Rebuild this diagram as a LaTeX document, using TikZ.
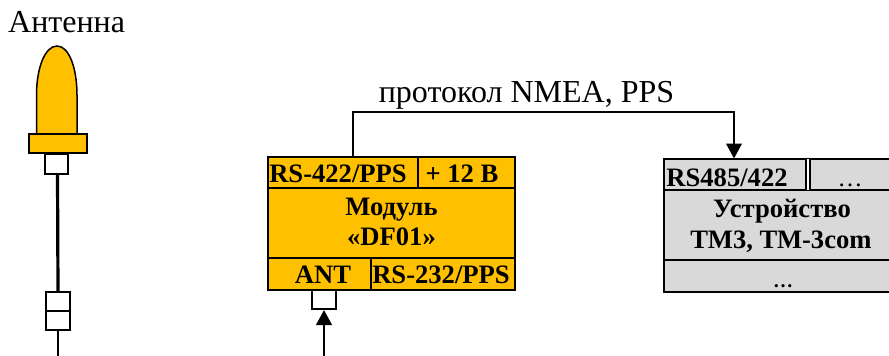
\documentclass[tikz,border=0pt]{standalone}
\usepackage{fontspec}
\setmainfont{Liberation Serif}
\usetikzlibrary{arrows.meta}
\definecolor{amber}{HTML}{FFC000}
\definecolor{devgrey}{HTML}{D9D9D9}
\tikzset{
  x=1pt,y=-1pt,
  box/.style={draw=black,line width=2pt,rectangle,minimum width=0pt,inner sep=0pt},
  lab/.style={font=\fontsize{32}{36}\selectfont,inner sep=0pt,text=black},
  blab/.style={font=\fontsize{26.6}{30}\bfseries\selectfont,inner sep=0pt,anchor=base,text=black},
  wire/.style={draw=black,line width=2.6pt},
  tip/.style={-{Triangle[length=15pt,width=15.5pt]}}
}
\begin{document}
\begin{tikzpicture}
\useasboundingbox (0,0) rectangle (889,356);
\clip (0,0) rectangle (889,356);
% antenna
\node[lab,anchor=base west] (anttitle) at (8,32) {Антенна};
\draw[fill=amber,line width=1.5pt] (36.5,134) -- (36.5,95) .. controls (36.5,68) and (45,46) .. (57,46) .. controls (69,46) and (77,68) .. (77,95) -- (77,134) -- cycle;
\draw[box,fill=amber] (28.5,134) rectangle (87,153);
\draw[box,fill=white] (44.5,154) rectangle (68,174);
\coordinate (anttop) at (57.5,174);
\coordinate (jointop) at (58,292);
\draw[line width=3.2pt] (anttop) -- (jointop);
\draw[box,line width=1.5pt,fill=white] (46,292) rectangle (70,311);
\draw[box,line width=1.5pt,fill=white] (46,311) rectangle (70,330);
\coordinate (joinbot) at (58,330);
\coordinate (antend) at (58,356);
\draw[wire] (joinbot) -- (antend);
% module
\draw[box,fill=amber] (268,157) rectangle (515,290);
\draw[box] (268,188) -- (515,188);
\draw[box] (268,258) -- (515,258);
\draw[box] (418,157) -- (418,188);
\draw[box] (370.5,258) -- (370.5,290);
\node[blab] (m1) at (338,182.5) {RS-422/PPS};
\node[blab] (m2) at (462,182.5) {+ 12 В};
\node[blab] (m3) at (391.5,215) {Модуль};
\node[blab] (m4) at (391.5,245) {«DF01»};
\node[blab] (m5) at (323,283) {ANT};
\node[blab] (m6) at (441,283) {RS-232/PPS};
\draw[box,line width=1.5pt,fill=white] (312,290) rectangle (336,309);
\coordinate (inend) at (324,356);
\coordinate (intip) at (324,310);
\draw[wire,tip] (inend) -- (intip);
% link
\coordinate (linkstart) at (353,157);
\coordinate (linkend) at (734,158.5);
\draw[wire,tip] (linkstart) -- (353,112) -- (734,112) -- (linkend);
\node[lab,anchor=base] (proto) at (526.5,102) {протокол NMEA, PPS};
% device
\draw[box,line width=1.6pt,fill=devgrey] (664,159) rectangle (895,292);
\draw[box,line width=1.6pt] (664,190) -- (895,190);
\draw[box,line width=1.6pt] (664,260) -- (895,260);
\fill[white] (806.5,159) rectangle (809.5,190);
\draw[line width=1.6pt] (806,159) -- (806,190);
\draw[line width=1.6pt] (810,159) -- (810,190);
\node[blab] (d1) at (727,186) {RS485/422};
\node[lab,anchor=base,font=\fontsize{25}{28}\selectfont] (d2) at (850,186) {…};
\node[blab,font=\fontsize{20}{24}\bfseries\selectfont] (d5) at (783,287) {…};
\node[blab] (d3) at (782,217) {Устройство};
\node[blab] (d4) at (781,248) {ТМ3, ТМ-3com};
\end{tikzpicture}
\end{document}
